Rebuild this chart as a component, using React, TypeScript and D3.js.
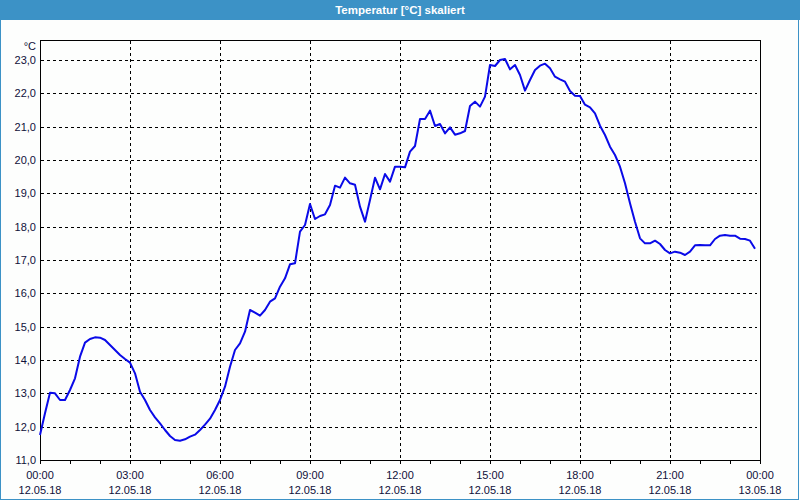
import React from "react";
import * as d3 from "d3";

const title = "Temperatur [°C] skaliert";
const unit = "°C";
const startDate = "2018-05-12T00:00:00";
const stepMinutes = 10;
const temps: number[] = [
  11.75, 12.4, 13.02, 13.0, 12.8, 12.8, 13.1, 13.45, 14.1, 14.52,
  14.63, 14.68, 14.67, 14.6, 14.45, 14.3, 14.15, 14.03, 13.92, 13.6,
  13.05, 12.8, 12.5, 12.28, 12.1, 11.9, 11.72, 11.6, 11.58, 11.62,
  11.7, 11.76, 11.9, 12.06, 12.24, 12.5, 12.8, 13.2, 13.8, 14.3,
  14.5, 14.85, 15.5, 15.42, 15.33, 15.5, 15.75, 15.85, 16.2, 16.45,
  16.87, 16.9, 17.85, 18.05, 18.68, 18.23, 18.32, 18.37, 18.65, 19.23,
  19.17, 19.47, 19.3, 19.26, 18.6, 18.15, 18.8, 19.47, 19.12, 19.58,
  19.35, 19.8, 19.8, 19.78, 20.25, 20.42, 21.23, 21.23, 21.48, 21.02,
  21.08, 20.8, 20.98, 20.76, 20.8, 20.87, 21.62, 21.75, 21.6, 21.9,
  22.85, 22.82, 23.0, 23.03, 22.72, 22.85, 22.55, 22.08, 22.4, 22.7,
  22.83, 22.89, 22.75, 22.5, 22.42, 22.35, 22.07, 21.93, 21.92, 21.66,
  21.58, 21.4, 21.03, 20.75, 20.4, 20.15, 19.8, 19.3, 18.7, 18.15,
  17.65, 17.5, 17.5, 17.58, 17.48, 17.3, 17.2, 17.25, 17.22, 17.15,
  17.25, 17.44, 17.45, 17.44, 17.44, 17.63, 17.73, 17.75, 17.73, 17.73,
  17.64, 17.63, 17.58, 17.34,
];
const yTicks = [11, 12, 13, 14, 15, 16, 17, 18, 19, 20, 21, 22, 23];
const xTickHours = [0, 3, 6, 9, 12, 15, 18, 21, 24];
const minorHours = d3.range(0, 25);

const W = 800, H = 500;
const left = 40, right = 760, top = 40, bottom = 460;
const font = "Tahoma, 'Liberation Sans', Arial, sans-serif";
const textColor = "#10103a";

export default function App() {
  const t0 = new Date(startDate);
  const t1 = d3.timeHour.offset(t0, 24);
  const x = d3.scaleTime().domain([t0, t1]).range([left, right]);
  const y = d3.scaleLinear().domain([11, 23.6]).range([bottom, top]);
  const data = temps.map((v, i) => ({ t: d3.timeMinute.offset(t0, i * stepMinutes), v }));
  const line = d3
    .line<{ t: Date; v: number }>()
    .x((d) => x(d.t))
    .y((d) => y(d.v));
  const fmtTime = d3.timeFormat("%H:%M");
  const fmtDate = d3.timeFormat("%d.%m.%y");
  const fmtY = (v: number) => v.toFixed(1).replace(".", ",");

  return (
    <svg
      width={W}
      height={H}
      style={{ position: "absolute", left: 0, top: 0, display: "block" }}
      fontFamily={font}
    >
      <rect x={0} y={0} width={W} height={H} fill="#fdfefd" />
      <rect x={0.5} y={0.5} width={W - 2} height={H - 1} fill="none" stroke="#3c92c6" strokeWidth={1} />
      <rect x={0} y={0} width={W} height={20} fill="#3c92c6" />
      <text x={400} y={10} dy="0.35em" textAnchor="middle" fill="#fff" fontWeight="bold" fontSize={11.5}>
        {title}
      </text>

      {/* horizontal gridlines */}
      {yTicks.filter((v) => v > 11).map((v) => (
        <line
          key={"gy" + v}
          x1={left + 1}
          x2={right - 3}
          y1={Math.round(y(v)) + 0.5}
          y2={Math.round(y(v)) + 0.5}
          stroke="#000"
          strokeDasharray="3,3"
        />
      ))}
      {/* vertical gridlines */}
      {xTickHours.filter((h) => h > 0 && h < 24).map((h) => {
        const px = Math.round(x(d3.timeHour.offset(t0, h))) + 0.5;
        return (
          <line key={"gx" + h} x1={px} x2={px} y1={top + 1} y2={bottom} stroke="#000" strokeDasharray="3,3" />
        );
      })}

      {/* frame */}
      <rect x={left + 0.5} y={top + 0.5} width={right - left} height={bottom - top} fill="none" stroke="#000" />

      {/* minor ticks */}
      {minorHours.map((h) => {
        const px = Math.round(x(d3.timeHour.offset(t0, h))) + 0.5;
        return <line key={"mt" + h} x1={px} x2={px} y1={bottom} y2={bottom + 4} stroke="#000" />;
      })}

      {/* y labels */}
      {yTicks.map((v) => (
        <text key={"yl" + v} x={36} y={y(v)} dy="0.35em" textAnchor="end" fontSize={11} fill={textColor}>
          {fmtY(v)}
        </text>
      ))}
      <text x={36} y={46} dy="0.35em" textAnchor="end" fontSize={11} fill={textColor}>
        {unit}
      </text>

      {/* x labels */}
      {xTickHours.map((h) => {
        const d = d3.timeHour.offset(t0, h);
        const px = x(d);
        return (
          <g key={"xl" + h}>
            <text x={px} y={475} dy="0.35em" textAnchor="middle" fontSize={11} fill={textColor}>
              {fmtTime(d)}
            </text>
            <text x={px} y={490} dy="0.35em" textAnchor="middle" fontSize={11} fill={textColor}>
              {fmtDate(d)}
            </text>
          </g>
        );
      })}

      <path d={line(data) || ""} fill="none" stroke="#0a0ae8" strokeWidth={2} strokeLinejoin="round" />
    </svg>
  );
}
